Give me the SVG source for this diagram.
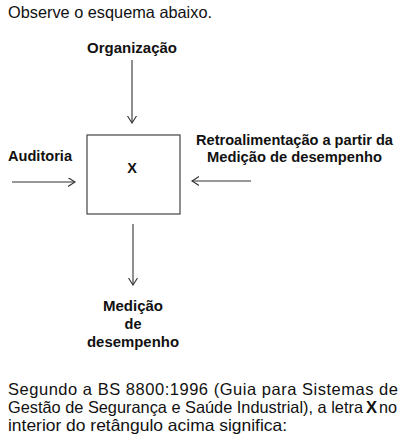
<svg xmlns="http://www.w3.org/2000/svg" width="408" height="442" viewBox="0 0 408 442">
<style>
.para{font-family:"Liberation Sans",Arial,sans-serif;font-size:16.5px;fill:#111}
.lbl{font-family:"Liberation Sans",Arial,sans-serif;font-size:14.5px;font-weight:bold;fill:#111}
.conn{stroke:#333;stroke-width:1.1;fill:none}
.box{stroke:#444;stroke-width:1.2;fill:#fff}
</style>
<defs>
<marker id="arr" markerUnits="userSpaceOnUse" markerWidth="10" markerHeight="10" refX="7" refY="4.5" orient="auto" viewBox="0 0 10 10">
<path d="M0,0 L7,4.5 L0,9" fill="none" stroke="#333" stroke-width="1.1"/>
</marker>
</defs>
<rect width="408" height="442" fill="#fff"/>
<text class="para" x="8" y="18" textLength="204" lengthAdjust="spacingAndGlyphs">Observe o esquema abaixo.</text>
<g id="node-org"><text class="lbl" x="132" y="53" text-anchor="middle" textLength="90" lengthAdjust="spacingAndGlyphs">Organização</text></g>
<g id="node-auditoria"><text class="lbl" x="8" y="161" textLength="64" lengthAdjust="spacingAndGlyphs">Auditoria</text></g>
<g id="node-retro">
<text class="lbl" x="196" y="145" textLength="197" lengthAdjust="spacingAndGlyphs">Retroalimentação a partir da</text>
<text class="lbl" x="207" y="162" textLength="175" lengthAdjust="spacingAndGlyphs">Medição de desempenho</text>
</g>
<g id="node-x">
<rect class="box" x="87" y="135" width="93" height="79"/>
<text class="lbl" x="132" y="173" text-anchor="middle">X</text>
</g>
<g id="node-medicao">
<text class="lbl" x="133" y="311" text-anchor="middle" textLength="60" lengthAdjust="spacingAndGlyphs">Medição</text>
<text class="lbl" x="133" y="329" text-anchor="middle">de</text>
<text class="lbl" x="133" y="347" text-anchor="middle" textLength="92" lengthAdjust="spacingAndGlyphs">desempenho</text>
</g>
<g id="connectors">
<line class="conn" x1="132" y1="60" x2="132" y2="123" marker-end="url(#arr)"/>
<line class="conn" x1="12" y1="182" x2="75" y2="182" marker-end="url(#arr)"/>
<line class="conn" x1="251" y1="181" x2="192" y2="181" marker-end="url(#arr)"/>
<line class="conn" x1="133" y1="224" x2="133" y2="285" marker-end="url(#arr)"/>
</g>
<text class="para" x="8" y="395" textLength="390" lengthAdjust="spacing">Segundo a BS 8800:1996 (Guia para Sistemas de</text>
<text class="para" x="8" y="413" textLength="355" lengthAdjust="spacingAndGlyphs">Gestão de Segurança e Saúde Industrial), a letra</text>
<text class="para" x="366" y="413" font-weight="bold">X</text>
<text class="para" x="379" y="413" textLength="18" lengthAdjust="spacingAndGlyphs">no</text>
<text class="para" x="8" y="431" textLength="279" lengthAdjust="spacingAndGlyphs">interior do retângulo acima significa:</text>
</svg>
